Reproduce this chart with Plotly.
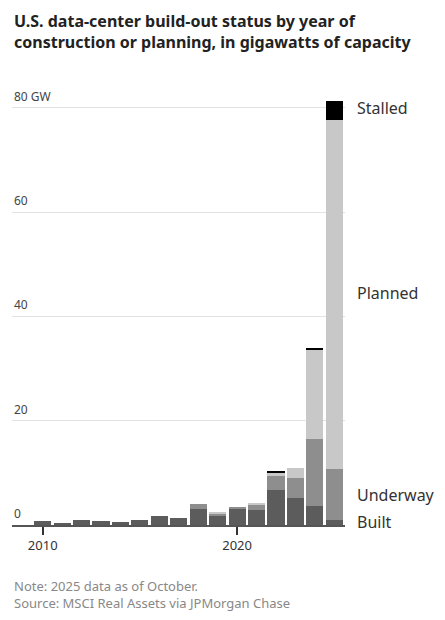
import plotly.graph_objects as go

years = list(range(2010, 2026))
built    = [0.83, 0.45, 1.0, 0.7, 0.58, 1.0, 1.66, 1.28, 3.1, 1.9, 3.1, 2.9, 6.7, 5.1, 3.7, 1.0]
underway = [0, 0, 0, 0, 0, 0, 0, 0, 0.9, 0.35, 0.2, 1.1, 2.7, 3.9, 12.8, 9.7]
planned  = [0, 0, 0, 0, 0, 0, 0, 0, 0, 0.3, 0, 0.2, 0.6, 2.0, 17.0, 66.9]
stalled  = [0, 0, 0, 0, 0, 0, 0, 0, 0, 0, 0, 0, 0.25, 0, 0.4, 3.7]

series = [
    ("Built", built, "#5c5c5c"),
    ("Underway", underway, "#8e8e8e"),
    ("Planned", planned, "#c8c8c8"),
    ("Stalled", stalled, "#000000"),
]

y_tickvals = [0, 20, 40, 60, 80]
y_ticktext = ["0", "20", "40", "60", "80 GW"]
x_tickvals = [2010, 2020]

label_y = {"Stalled": 80, "Planned": 44.5, "Underway": 5.8, "Built": 0.6}

FONT = "Noto Sans"
PX_PER_GW = 5.217  # plot height / y-range, used only to size the tick marks below the axis

fig = go.Figure()
for name, vals, col in series:
    fig.add_trace(go.Bar(x=years, y=vals, name=name, marker=dict(color=col, line=dict(width=0)),
                         showlegend=False))

# year tick marks drawn just below the baseline
minor_len, major_len = 5, 8
minor_years = [y for y in years if y not in x_tickvals]
fig.add_trace(go.Scatter(x=minor_years, y=[-minor_len / 2 / PX_PER_GW] * len(minor_years),
                         mode="markers", cliponaxis=False, showlegend=False, hoverinfo="skip",
                         marker=dict(symbol="line-ns", size=minor_len,
                                     line=dict(width=1.3, color="#444"))))
fig.add_trace(go.Scatter(x=x_tickvals, y=[-major_len / 2 / PX_PER_GW] * len(x_tickvals),
                         mode="markers", cliponaxis=False, showlegend=False, hoverinfo="skip",
                         marker=dict(symbol="line-ns", size=major_len,
                                     line=dict(width=1.5, color="#333"))))

fig.update_layout(
    barmode="stack",
    bargap=0.12,
    width=437, height=612,
    margin=dict(l=4, r=100, t=79, b=95),
    paper_bgcolor="white", plot_bgcolor="white",
    font=dict(family=FONT, color="#333"),
)
fig.update_yaxes(
    range=[0, 84], tickvals=y_tickvals, showticklabels=False,
    showgrid=True, gridcolor="#e2e2e2", gridwidth=1, zeroline=False,
    showline=False, ticks="",
)
fig.update_xaxes(
    range=[2008.42, 2025.55], tickmode="array", tickvals=x_tickvals, ticktext=[str(v) for v in x_tickvals],
    ticks="outside", ticklen=major_len, tickcolor="#333333", tickwidth=1.5,
    showline=True, linecolor="#555555", linewidth=1.5,
    showgrid=False, zeroline=False, tickfont=dict(size=13, color="#333"),
)

for v, t in zip(y_tickvals, y_ticktext):
    fig.add_annotation(x=0, xref="paper", y=v, yref="y", text=t, showarrow=False,
                       xanchor="left", yanchor="bottom", yshift=1,
                       font=dict(size=12, color="#444"))

for name, yv in label_y.items():
    fig.add_annotation(x=1.0, xref="paper", y=yv, yref="y", text=name, showarrow=False,
                       xanchor="left", xshift=10, font=dict(size=16, color="#333"))

fig.add_annotation(x=0, xref="paper", y=1.18, yref="paper", yanchor="top", xanchor="left",
                   text="<b>U.S. data-center build-out status by year of<br>construction or planning, in gigawatts of capacity</b>",
                   showarrow=False, align="left", font=dict(size=16, color="#222", family=FONT))
fig.add_annotation(x=0, xref="paper", y=-0.115, yref="paper", yanchor="top", xanchor="left",
                   text="Note: 2025 data as of October.<br>Source: MSCI Real Assets via JPMorgan Chase",
                   showarrow=False, align="left", font=dict(size=13, color="#888", family=FONT))

fig.write_html("out.html")
